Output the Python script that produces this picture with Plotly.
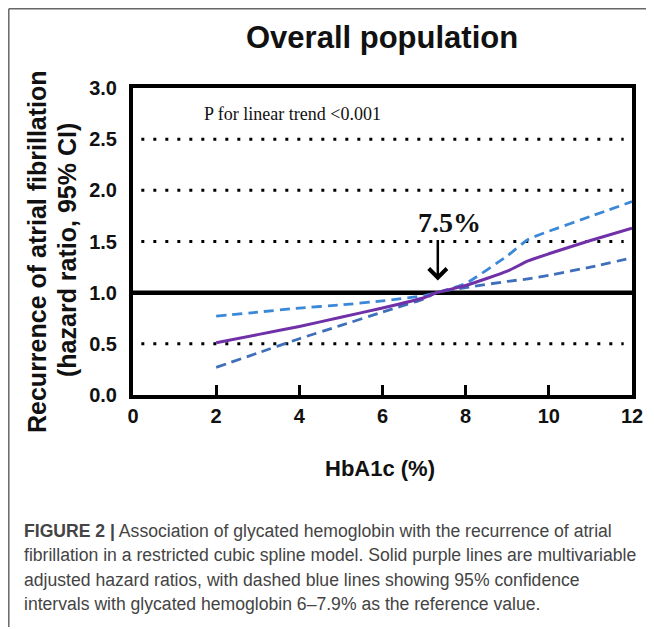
import plotly.graph_objects as go

# ---- data ----
hba1c = [2, 3, 4, 5, 6, 7, 7.3, 8, 9, 9.5, 10, 11, 12]
hr = [0.51, 0.59, 0.67, 0.76, 0.85, 0.95, 1.0, 1.07, 1.21, 1.31, 1.38, 1.51, 1.63]
ci_upper = [0.77, 0.81, 0.85, 0.88, 0.92, 0.97, 1.0, 1.09, 1.36, 1.52, 1.60, 1.745, 1.89]
ci_lower = [0.27, 0.41, 0.55, 0.68, 0.81, 0.94, 1.0, 1.05, 1.11, 1.135, 1.17, 1.25, 1.34]
x_ticks = [0, 2, 4, 6, 8, 10, 12]
y_ticks = [0.0, 0.5, 1.0, 1.5, 2.0, 2.5, 3.0]
y_tick_labels = ["0.0", "0.5", "1.0", "1.5", "2.0", "2.5", "3.0"]
dotted_levels = [0.5, 1.5, 2.0, 2.5]
ref_level = 1.0
cutoff = 7.33

caption_lines = [
    "<b>FIGURE 2 |</b> Association of glycated hemoglobin with the recurrence of atrial",
    "fibrillation in a restricted cubic spline model. Solid purple lines are multivariable",
    "adjusted hazard ratios, with dashed blue lines showing 95% confidence",
    "intervals with glycated hemoglobin 6\u20137.9% as the reference value.",
]

OFF = 8  # page body margin
W, H = 654 - OFF, 629 - OFF
# plot area in page pixels
L, R, T, B = 133, 632, 88, 395


def px(xp):
    return (xp - L) / (R - L)


def py(yp):
    return (B - yp) / (B - T)


fig = go.Figure()

fig.add_trace(go.Scatter(x=hba1c, y=ci_upper, mode="lines",
                         line=dict(color="#3B88D9", width=2.8, dash="10px,6px", shape="spline", smoothing=0.5),
                         showlegend=False, hoverinfo="skip"))
fig.add_trace(go.Scatter(x=hba1c, y=ci_lower, mode="lines",
                         line=dict(color="#3F6FBA", width=2.8, dash="10px,6px", shape="spline", smoothing=0.5),
                         showlegend=False, hoverinfo="skip"))
fig.add_trace(go.Scatter(x=hba1c, y=hr, mode="lines",
                         line=dict(color="#7030A8", width=3, shape="spline", smoothing=0.5),
                         showlegend=False, hoverinfo="skip"))

shapes = []
for lv in dotted_levels:
    shapes.append(dict(type="line", xref="x", yref="y", x0=0.2, x1=11.8, y0=lv, y1=lv,
                       line=dict(color="black", width=3, dash="3px,9px"), layer="below"))
shapes.append(dict(type="line", xref="x", yref="y", x0=0, x1=12, y0=ref_level, y1=ref_level,
                   line=dict(color="black", width=4.5), layer="below"))
# outer figure border (top and left)
edge = OFF + 0.8
shapes.append(dict(type="line", xref="paper", yref="paper", x0=px(edge), x1=px(654), y0=py(edge), y1=py(edge),
                   line=dict(color="#666666", width=1.5)))
shapes.append(dict(type="line", xref="paper", yref="paper", x0=px(edge), x1=px(edge), y0=py(edge), y1=py(627),
                   line=dict(color="#666666", width=1.5)))

annotations = [
    dict(text="<b>Overall population</b>", xref="paper", yref="paper", x=px(382), y=py(38),
         showarrow=False, font=dict(family="Liberation Sans, Arial", size=31, color="#111111"),
         xanchor="center", yanchor="middle"),
    dict(text="P for linear trend &lt;0.001", xref="x", yref="y", x=1.65, y=2.75, xanchor="left",
         showarrow=False, font=dict(family="Liberation Serif, Times New Roman", size=18, color="#111111")),
    dict(text="<b>7.5%</b>", xref="x", yref="y", x=7.62, y=1.69, showarrow=False,
         font=dict(family="Liberation Serif, Times New Roman", size=28, color="#111111")),
    dict(text="", xref="x", yref="y", x=cutoff, y=1.12, ax=cutoff, ay=1.53, axref="x", ayref="y",
         showarrow=True, arrowhead=4, arrowsize=1.4, arrowwidth=2.5, arrowcolor="black"),
    dict(text="<b>Recurrence of atrial fibrillation</b>", xref="paper", yref="paper", x=px(37), y=py(252),
         textangle=-90, showarrow=False, xanchor="center", yanchor="middle",
         font=dict(family="Liberation Sans, Arial", size=25, color="#111111")),
    dict(text="<b>(hazard ratio, 95% CI)</b>", xref="paper", yref="paper", x=px(67), y=py(250),
         textangle=-90, showarrow=False, xanchor="center", yanchor="middle",
         font=dict(family="Liberation Sans, Arial", size=25, color="#111111")),
    dict(text="<b>HbA1c (%)</b>", xref="paper", yref="paper", x=px(380), y=py(468),
         showarrow=False, xanchor="center", yanchor="middle",
         font=dict(family="Liberation Sans, Arial", size=22, color="#111111")),
]
cap_y = [531, 555, 580, 604]
for line, yy in zip(caption_lines, cap_y):
    annotations.append(dict(text=line, xref="paper", yref="paper", x=px(22), y=py(yy),
                            xanchor="left", yanchor="middle", showarrow=False,
                            font=dict(family="Liberation Sans, Arial", size=17.6, color="#444444")))

fig.update_layout(
    width=W, height=H,
    margin=dict(l=L - OFF, r=654 - R, t=T - OFF, b=629 - B, pad=0),
    paper_bgcolor="white", plot_bgcolor="white",
    shapes=shapes, annotations=annotations,
    xaxis=dict(range=[0, 12], tickvals=x_ticks, ticktext=["<b>%s</b>" % v for v in x_ticks],
               ticks="inside", ticklen=10, tickwidth=3, tickcolor="black",
               showline=True, linewidth=4, linecolor="black", mirror=True,
               showgrid=False, zeroline=False,
               tickfont=dict(family="Liberation Sans, Arial", size=20, color="#111111"),
               ticklabelstandoff=0),
    yaxis=dict(range=[0, 3], tickvals=y_ticks, ticktext=["<b>%s</b>" % t for t in y_tick_labels],
               ticks="", showline=True, linewidth=4, linecolor="black", mirror=True,
               showgrid=False, zeroline=False,
               tickfont=dict(family="Liberation Sans, Arial", size=20, color="#111111"),
               ticklabelstandoff=8),
)

fig.write_html("out.html")
